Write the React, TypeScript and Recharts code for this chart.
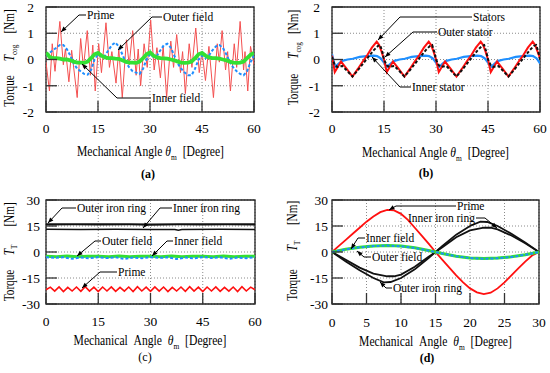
import React from 'react';
import { LineChart, Line, XAxis, YAxis, CartesianGrid, ReferenceArea } from 'recharts';

type P = [number, number];
const toPts = (a: P[]) => a.map(([x, y]) => ({ x, y }));

// ---------- (a) cogging torque of each part ----------
const cogAngleTicks = [0, 15, 30, 45, 60];
const cogTorqueTicks = [-2, -1, 0, 1, 2];
const primeCog: P[] = [[0,-0.1],[1.0,-1.2],[1.8,0.6],[2.6,-0.45],[4.0,1.45],[5.0,-0.2],[5.6,0.4],[6.6,-0.85],[7.4,0.35],[9.0,-1.45],[10.0,0.8],[10.8,-0.3],[11.9,1.1],[12.8,-0.6],[13.5,0.55],[14.2,-1.2],[15.2,0.6],[16.0,-0.5],[17.3,1.4],[18.3,-0.3],[19.0,0.3],[20.2,-0.9],[21.0,0.4],[22.0,-1.45],[23.2,0.75],[24.0,-0.2],[25.0,1.1],[26.0,-0.6],[26.6,0.4],[27.3,-1.0],[28.3,0.6],[29.2,-0.3],[30.2,1.5],[31.2,-0.4],[32.0,0.45],[33.0,-0.7],[33.8,0.5],[34.8,-1.45],[36.0,0.7],[36.8,-0.3],[37.7,0.95],[38.8,-0.5],[39.4,0.3],[40.2,-1.3],[41.3,0.6],[42.1,-0.3],[43.2,1.2],[44.2,-0.5],[45.0,0.3],[46.0,-0.8],[47.0,0.5],[48.3,-1.45],[49.4,0.6],[50.0,-0.1],[50.8,1.1],[51.8,-0.4],[52.4,0.3],[53.2,-1.2],[54.3,0.6],[55.0,-0.3],[56.0,1.45],[57.0,-0.4],[57.4,0.3],[58.2,-1.2],[59.0,0.5],[60.0,-0.2]];
const outerFieldCog: P[] = [[0,0.15],[1,0.25],[2,0.35],[3,0.45],[4,0.55],[5,0.55],[6,0.4],[7,0.15],[8,-0.15],[9,-0.35],[10,-0.45],[11,-0.55],[12,-0.58],[13,-0.4],[14,0.0],[15,0.2],[16,0.1],[17,0.15],[18,0.35],[19,0.55],[20,0.65],[21,0.5],[22,0.2],[23,-0.1],[24,-0.3],[25,-0.45],[26,-0.5],[27,-0.55],[28,-0.35],[29,0.0],[30,0.2],[31,0.1],[32,0.15],[33,0.35],[34,0.55],[35,0.6],[36,0.45],[37,0.15],[38,-0.15],[39,-0.35],[40,-0.5],[41,-0.6],[42,-0.6],[43,-0.35],[44,0.0],[45,0.15],[46,0.05],[47,0.15],[48,0.35],[49,0.5],[50,0.55],[51,0.45],[52,0.2],[53,-0.1],[54,-0.3],[55,-0.45],[56,-0.55],[57,-0.6],[58,-0.45],[59,-0.1],[60,0.15]];
const innerFieldCog: P[] = [[0,0.25],[0.5,0.2],[1,0.1],[2,0.05],[3,0.05],[4,0.03],[5,0.0],[6,0.0],[7,-0.03],[8,-0.08],[9,-0.12],[10,-0.12],[11,-0.13],[12,-0.08],[13,0.05],[14,0.2],[15,0.25],[16,0.15],[17,0.08],[18,0.05],[19,0.05],[20,0.03],[21,0.02],[22,-0.03],[23,-0.08],[24,-0.12],[25,-0.12],[26,-0.13],[27,-0.08],[28,0.05],[29,0.2],[30,0.27],[31,0.15],[32,0.08],[33,0.05],[34,0.04],[35,0.03],[36,0.0],[37,-0.03],[38,-0.08],[39,-0.12],[40,-0.13],[41,-0.12],[42,-0.08],[43,0.05],[44,0.2],[45,0.25],[46,0.15],[47,0.08],[48,0.05],[49,0.05],[50,0.03],[51,0.0],[52,-0.03],[53,-0.08],[54,-0.12],[55,-0.13],[56,-0.12],[57,-0.08],[58,0.05],[59,0.18],[60,0.25]];

// ---------- (b) cogging torque of stators ----------
const statorsCog: P[] = [[0,0.15],[0.8,-0.48],[2.6,-0.08],[4.2,-0.35],[5.9,-0.65],[7.5,-0.35],[9.0,-0.05],[10.2,0.17],[11.5,0.45],[12.9,0.68],[13.6,0.55],[14.3,0.3],[15,0.0],[15.8,-0.48],[17.6,-0.08],[19.2,-0.35],[20.9,-0.65],[22.5,-0.35],[24.0,-0.05],[25.2,0.17],[26.5,0.45],[27.9,0.68],[28.6,0.55],[29.3,0.3],[30,0.0],[30.8,-0.48],[32.6,-0.08],[34.2,-0.35],[35.9,-0.65],[37.5,-0.35],[39.0,-0.05],[40.2,0.17],[41.5,0.45],[42.9,0.68],[43.6,0.55],[44.3,0.3],[45,0.0],[45.8,-0.48],[47.6,-0.08],[49.2,-0.35],[50.9,-0.65],[52.5,-0.35],[54.0,-0.05],[55.2,0.17],[56.5,0.45],[57.9,0.68],[58.6,0.55],[59.3,0.3],[60,0.05]];
const outerStatorCog: P[] = [[0,0.1],[0.8,-0.22],[1.5,-0.28],[3.0,-0.25],[4.5,-0.45],[5.9,-0.65],[7.5,-0.4],[9.0,-0.15],[10.5,0.1],[12.0,0.35],[13.3,0.52],[13.9,0.55],[14.5,0.3],[15,0.0],[15.8,-0.22],[16.5,-0.28],[18.0,-0.25],[19.5,-0.45],[20.9,-0.65],[22.5,-0.4],[24.0,-0.15],[25.5,0.1],[27.0,0.35],[28.3,0.52],[28.9,0.55],[29.5,0.3],[30,0.0],[30.8,-0.22],[31.5,-0.28],[33.0,-0.25],[34.5,-0.45],[35.9,-0.65],[37.5,-0.4],[39.0,-0.15],[40.5,0.1],[42.0,0.35],[43.3,0.52],[43.9,0.55],[44.5,0.3],[45,0.0],[45.8,-0.22],[46.5,-0.28],[48.0,-0.25],[49.5,-0.45],[50.9,-0.65],[52.5,-0.4],[54.0,-0.15],[55.5,0.1],[57.0,0.35],[58.3,0.52],[58.9,0.55],[59.5,0.3],[60,0.0]];
const innerStatorCog: P[] = [[0,0.2],[0.9,-0.28],[2,-0.15],[3,-0.05],[4.5,0.0],[6,0.03],[8,0.1],[10,0.13],[12,0.15],[13,0.13],[14,0.05],[15,-0.12],[15.9,-0.28],[17,-0.15],[18,-0.05],[19.5,0.0],[21,0.03],[23,0.1],[25,0.13],[27,0.15],[28,0.13],[29,0.05],[30,-0.12],[30.9,-0.28],[32,-0.15],[33,-0.05],[34.5,0.0],[36,0.03],[38,0.1],[40,0.13],[42,0.15],[43,0.13],[44,0.05],[45,-0.12],[45.9,-0.28],[47,-0.15],[48,-0.05],[49.5,0.0],[51,0.03],[53,0.1],[55,0.13],[57,0.15],[58,0.13],[59,0.05],[60,-0.15]];

// ---------- (c) torque vs. angle, 60 degrees ----------
const torqueTicksT = [-30, -15, 0, 15, 30];
const outerRingC: P[] = [[0,15.9],[8,16.0],[15,15.9],[24,16.0],[30,15.8],[38,16.0],[45,15.9],[52,16.0],[60,15.9]];
const innerRingC: P[] = [[0,13.1],[10,13.0],[20,13.1],[30,13.0],[37,13.0],[38,12.6],[39,13.0],[50,13.1],[60,13.0]];
const innerFieldC: P[] = [[0,-2.4],[3,-2.7],[6,-2.3],[9,-2.8],[12,-2.4],[15,-2.5],[18,-2.8],[21,-2.3],[24,-2.7],[27,-2.4],[30,-2.4],[33,-2.7],[36,-2.3],[39,-2.8],[42,-2.4],[45,-2.5],[48,-2.8],[51,-2.3],[54,-2.7],[57,-2.4],[60,-2.5]];
const outerFieldC: P[] = [[0,-3.0],[2.5,-3.4],[5,-3.0],[7.5,-3.9],[10,-3.2],[12.5,-3.6],[15,-3.0],[17.5,-3.5],[20,-3.1],[22.5,-4.0],[25,-3.2],[27.5,-3.6],[30,-3.0],[32.5,-3.4],[35,-3.1],[37.5,-4.0],[40,-3.2],[42.5,-3.6],[45,-3.0],[47.5,-3.4],[50,-3.1],[52.5,-3.9],[55,-3.2],[57.5,-3.6],[60,-3.0]];
const primeC: P[] = [[0,-21.8],[1.25,-20.3],[2.5,-22.6],[3.75,-20.1],[5,-22.8],[6.25,-20.4],[7.5,-22.5],[8.75,-20.2],[10,-22.7],[11.25,-20.0],[12.5,-22.6],[13.75,-20.3],[15,-22.8],[16.25,-20.2],[17.5,-22.5],[18.75,-20.1],[20,-22.7],[21.25,-20.4],[22.5,-22.6],[23.75,-20.2],[25,-22.8],[26.25,-20.0],[27.5,-22.5],[28.75,-20.3],[30,-22.7],[31.25,-20.1],[32.5,-22.6],[33.75,-20.2],[35,-22.8],[36.25,-20.4],[37.5,-22.5],[38.75,-20.2],[40,-22.7],[41.25,-20.0],[42.5,-22.6],[43.75,-20.3],[45,-22.8],[46.25,-20.2],[47.5,-22.5],[48.75,-20.1],[50,-22.7],[51.25,-20.4],[52.5,-22.6],[53.75,-20.2],[55,-22.8],[56.25,-20.0],[57.5,-22.5],[58.75,-20.3],[60,-21.8]];

// ---------- (d) torque vs. angle, 30 degrees ----------
const angleTicksD = [0, 5, 10, 15, 20, 25, 30];
const primeD: P[] = [[0,0],[1,3.5],[2,7],[3,10.5],[4,14],[5,17.5],[6,20.5],[7,23],[8,24.3],[9,24],[10,22],[11,18.5],[12,14],[13,9.5],[14,4.8],[15,0],[16,-4.5],[17,-9],[18,-13.5],[19,-17.5],[20,-21],[21,-23.3],[22,-24.3],[23,-23.5],[24,-21],[25,-17.5],[26,-13.5],[27,-9.5],[28,-5.5],[29,-2],[30,0]];
const innerRingD: P[] = [[0,0],[2,-4.5],[4,-9],[6,-12.5],[8,-14],[9,-14],[10,-13],[12,-8.5],[14,-2.8],[15,0],[16,2.8],[18,8.5],[20,12.5],[22,14],[23,14],[24,13],[26,9.5],[28,5],[30,0]];
const outerRingD: P[] = [[0,0],[2,-5.5],[4,-10.5],[6,-15],[7.5,-17.5],[8.5,-17.3],[10,-15],[12,-10],[14,-3.5],[15,0],[16,3.5],[18,10],[20,15],[21.5,17.5],[22.5,17.3],[24,15],[26,10.5],[28,5.5],[30,0]];
const innerFieldD: P[] = [[0,0],[2,1.6],[4,2.8],[6,3.5],[8,3.8],[10,3.4],[12,2.4],[14,0.9],[15,0],[16,-0.9],[18,-2.4],[20,-3.4],[22,-3.8],[24,-3.5],[26,-2.8],[28,-1.6],[30,0]];
const outerFieldD: P[] = [[0,0],[2,1.5],[4,2.7],[6,3.4],[8,3.7],[10,3.3],[12,2.3],[14,0.8],[15,0],[16,-0.9],[18,-2.5],[20,-3.5],[22,-3.9],[24,-3.6],[26,-2.9],[28,-1.6],[30,0]];

const FONT = 'Liberation Serif, Times New Roman, DejaVu Serif, serif';
const RED = '#ff1010';
const BLUE = '#1e8fff';
const GREEN = '#33e033';

type Series = { data: P[]; color: string; w: number; dash?: string };

function Panel(props: {
  left: number; top: number; width: number; height: number;
  margin: { top: number; right: number; bottom: number; left: number };
  yWidth: number; xHeight: number; xDomain: [number, number]; xTicks: number[];
  yDomain: [number, number]; yTicks: number[]; xTickMargin: number; yTickMargin: number;
  series: Series[];
}) {
  const p = props;
  const tickStyle = { fontSize: 13.5, fill: '#000', fontFamily: FONT, style: { fontFamily: FONT } };
  const tl = { stroke: '#333', strokeWidth: 1.3 };
  return (
    <div style={{ position: 'absolute', left: p.left, top: p.top, fontFamily: FONT }}>
      <LineChart width={p.width} height={p.height} margin={p.margin} style={{ fontFamily: FONT }}>
        <CartesianGrid stroke="#8a8a8a" strokeDasharray="1 2" />
        <XAxis type="number" dataKey="x" domain={p.xDomain} ticks={p.xTicks} interval={0}
          allowDataOverflow height={p.xHeight} axisLine={false} tickSize={-11}
          tickMargin={p.xTickMargin} tickLine={tl} tick={tickStyle} />
        <YAxis type="number" domain={p.yDomain} ticks={p.yTicks} interval={0}
          allowDataOverflow width={p.yWidth} axisLine={false} tickSize={-11}
          tickMargin={p.yTickMargin} tickLine={tl} tick={tickStyle} />
        <ReferenceArea x1={p.xDomain[0]} x2={p.xDomain[1]} y1={p.yDomain[0]} y2={p.yDomain[1]}
          fill="none" stroke="#222" strokeWidth={1.3} ifOverflow="visible" />
        {p.series.map((s, i) => (
          <Line key={i} data={toPts(s.data)} dataKey="y" type="linear" dot={false}
            isAnimationActive={false} stroke={s.color} strokeWidth={s.w}
            strokeDasharray={s.dash} activeDot={false} />
        ))}
      </LineChart>
    </div>
  );
}

function Leader({ pts }: { pts: number[][] }) {
  const n = pts.length;
  const [x1, y1] = pts[n - 2];
  const [x2, y2] = pts[n - 1];
  const L = Math.hypot(x2 - x1, y2 - y1);
  const ux = (x2 - x1) / L, uy = (y2 - y1) / L;
  const len = 5.5, hw = 2.2;
  const bx = x2 - ux * len, by = y2 - uy * len;
  const head = `${x2},${y2} ${bx - uy * hw},${by + ux * hw} ${bx + uy * hw},${by - ux * hw}`;
  return (
    <g>
      <polyline points={pts.map((q) => q.join(',')).join(' ')} fill="none" stroke="#000" strokeWidth={1} />
      <polygon points={head} fill="#000" />
    </g>
  );
}

const notes: { text: string; x: number; y: number; pts: number[][] }[] = [
  { text: 'Prime', x: 87, y: 19, pts: [[86, 15], [79, 15], [61, 32]] },
  { text: 'Outer field', x: 163, y: 21, pts: [[162, 17], [152, 17], [118, 50]] },
  { text: 'Inner field', x: 152, y: 102, pts: [[151, 98], [117, 98], [82, 64]] },
  { text: 'Stators', x: 473, y: 21, pts: [[472, 17], [400, 17], [378, 40]] },
  { text: 'Outer stator', x: 438, y: 36, pts: [[437, 32], [413, 32], [385, 57]] },
  { text: 'Inner stator', x: 412, y: 91, pts: [[411, 87], [400, 87], [372, 57]] },
  { text: 'Outer iron ring', x: 77, y: 212, pts: [[76, 208], [62, 208], [48, 223]] },
  { text: 'Inner iron ring', x: 173, y: 212, pts: [[172, 208], [160, 208], [143, 228]] },
  { text: 'Outer field', x: 102, y: 245, pts: [[101, 241], [95, 241], [77, 256]] },
  { text: 'Inner field', x: 174, y: 245, pts: [[173, 241], [167, 241], [152, 256]] },
  { text: 'Prime', x: 118, y: 276, pts: [[117, 272], [100, 272], [82, 288]] },
  { text: 'Prime', x: 457, y: 210, pts: [[456, 206], [396, 206], [389, 210]] },
  { text: 'Inner iron ring', x: 408, y: 222, pts: [[476, 218], [485, 218], [497, 228]] },
  { text: 'Inner field', x: 366, y: 242, pts: [[365, 238], [358, 238], [351, 249]] },
  { text: 'Outer field', x: 372, y: 261, pts: [[371, 257], [364, 257], [357, 251]] },
  { text: 'Outer iron ring', x: 393, y: 292, pts: [[392, 288], [386, 288], [380, 282]] },
];

const SXH = 0.83;
const SXV = 0.8;

function XTitle({ cx, y, gap }: { cx: number; y: number; gap: string }) {
  return (
    <g transform={`translate(${cx},${y}) scale(${SXH},1)`}>
      <text textAnchor="middle" fontSize={14} fontFamily={FONT} style={{ fontFamily: FONT }} fill="#000">
        {`Mechanical${gap}Angle${gap}`}
        <tspan fontStyle="italic">θ</tspan>
        <tspan fontSize={9} dy={4}>m</tspan>
        <tspan dy={-4}>{'\u00a0\u00a0[Degree]'}</tspan>
      </text>
    </g>
  );
}

function YTitle({ x, yNm, ySym, yTorque, sub }: { x: number; yNm: number; ySym: number; yTorque: number; sub: string }) {
  const t = (y: number, c: React.ReactNode) => (
    <g transform={`translate(${x},${y}) rotate(-90) scale(${SXV},1)`}>
      <text textAnchor="middle" fontSize={14} fontFamily={FONT} style={{ fontFamily: FONT }} fill="#000">{c}</text>
    </g>
  );
  return (
    <g>
      {t(yNm, '[Nm]')}
      {t(ySym, <>
        <tspan fontStyle="italic">T</tspan>
        <tspan fontSize={9} dy={3}>{sub}</tspan>
      </>)}
      {t(yTorque, 'Torque')}
    </g>
  );
}

export default function App() {
  const noteStyle = { fontFamily: FONT };
  return (
    <div style={{ position: 'absolute', left: 0, top: 0, width: 550, height: 373, background: '#fff', overflow: 'hidden', fontFamily: FONT }}>
      <Panel left={0} top={0} width={275} height={185}
        margin={{ top: 7, right: 21, bottom: 0, left: 0 }} yWidth={46} xHeight={73}
        xDomain={[0, 60]} xTicks={cogAngleTicks} yDomain={[-2, 2]} yTicks={cogTorqueTicks}
        xTickMargin={22} yTickMargin={23}
        series={[
          { data: primeCog, color: '#f45050', w: 1 },
          { data: outerFieldCog, color: BLUE, w: 2, dash: '3 2' },
          { data: innerFieldCog, color: GREEN, w: 3.8 },
        ]} />
      <Panel left={275} top={0} width={275} height={185}
        margin={{ top: 7, right: 10, bottom: 0, left: 0 }} yWidth={57} xHeight={73}
        xDomain={[0, 60]} xTicks={cogAngleTicks} yDomain={[-2, 2]} yTicks={cogTorqueTicks}
        xTickMargin={22} yTickMargin={23}
        series={[
          { data: innerStatorCog, color: BLUE, w: 2.2 },
          { data: statorsCog, color: RED, w: 2 },
          { data: outerStatorCog, color: '#111', w: 2, dash: '3 2' },
        ]} />
      <Panel left={0} top={185} width={275} height={188}
        margin={{ top: 15, right: 20, bottom: 0, left: 0 }} yWidth={46} xHeight={69}
        xDomain={[0, 60]} xTicks={cogAngleTicks} yDomain={[-30, 30]} yTicks={torqueTicksT}
        xTickMargin={23} yTickMargin={17}
        series={[
          { data: outerRingC, color: '#111', w: 2.2 },
          { data: innerRingC, color: '#111', w: 1.6 },
          { data: primeC, color: RED, w: 1.6 },
          { data: innerFieldC, color: GREEN, w: 3 },
          { data: outerFieldC, color: BLUE, w: 2, dash: '3 2' },
        ]} />
      <Panel left={275} top={185} width={275} height={188}
        margin={{ top: 15, right: 11, bottom: 0, left: 0 }} yWidth={57} xHeight={69}
        xDomain={[0, 30]} xTicks={angleTicksD} yDomain={[-30, 30]} yTicks={torqueTicksT}
        xTickMargin={24} yTickMargin={15}
        series={[
          { data: innerRingD, color: '#111', w: 1.8 },
          { data: outerRingD, color: '#111', w: 1.8 },
          { data: primeD, color: RED, w: 1.8 },
          { data: innerFieldD, color: GREEN, w: 3 },
          { data: outerFieldD, color: BLUE, w: 2, dash: '3 2' },
        ]} />
      <svg width={550} height={373} style={{ position: 'absolute', left: 0, top: 0, pointerEvents: 'none', fontFamily: FONT }}>
        {notes.map((n, i) => (
          <g key={i}>
            <Leader pts={n.pts} />
            <text x={n.x} y={n.y} fontSize={11.5} fontFamily={FONT} style={noteStyle} fill="#000">{n.text}</text>
          </g>
        ))}
        <XTitle cx={150.5} y={156} gap={'\u00a0'} />
        <XTitle cx={435.5} y={157} gap={'\u00a0'} />
        <XTitle cx={150} y={345} gap={'\u00a0\u00a0'} />
        <XTitle cx={435.5} y={346} gap={'\u00a0\u00a0'} />
        <YTitle x={14} yNm={21.5} ySym={53} yTorque={91} sub="cog" />
        <YTitle x={298} yNm={22} ySym={50.5} yTorque={89.5} sub="cog" />
        <YTitle x={14} yNm={214.5} ySym={250} yTorque={285.5} sub="T" />
        <YTitle x={297} yNm={213} ySym={246} yTorque={285} sub="T" />
        <text x={148} y={178} textAnchor="middle" fontSize={12} fontWeight="bold" fontFamily={FONT} style={noteStyle}>(a)</text>
        <text x={426} y={177} textAnchor="middle" fontSize={12} fontWeight="bold" fontFamily={FONT} style={noteStyle}>(b)</text>
        <text x={145} y={361} textAnchor="middle" fontSize={12} fontFamily={FONT} style={noteStyle}>(c)</text>
        <text x={427} y={362} textAnchor="middle" fontSize={12} fontWeight="bold" fontFamily={FONT} style={noteStyle}>(d)</text>
      </svg>
    </div>
  );
}
